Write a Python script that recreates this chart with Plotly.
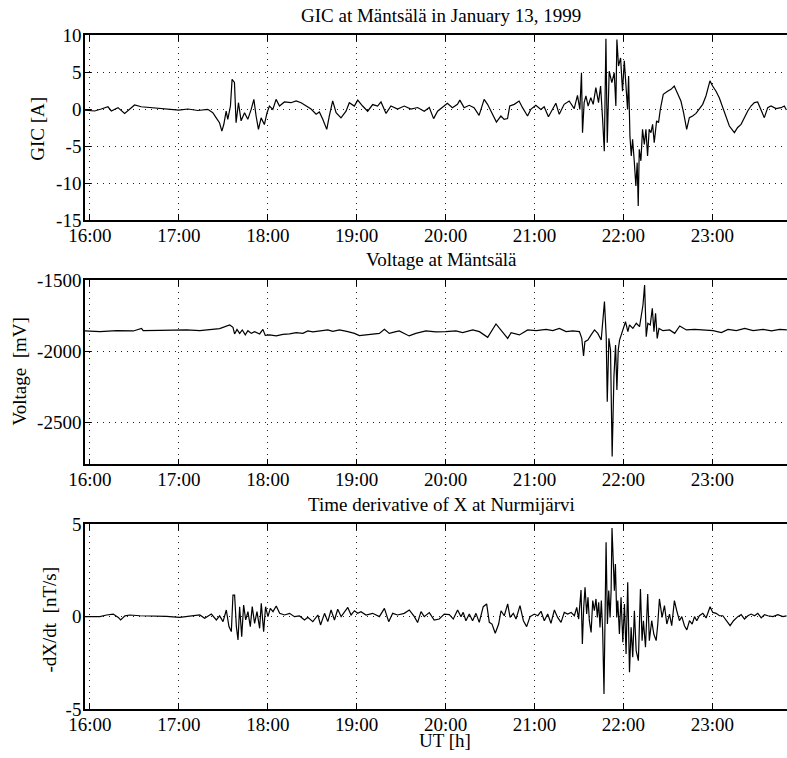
import plotly.graph_objects as go

# ---------------- data (time in minutes after 16:00 UT) ----------------
gic_min = [
    -3.4, 3.1, 7.6, 12.1, 14.4, 18.9, 23.4, 30.1, 34.6, 41.3,
    48.1, 54.8, 60, 66.1, 72.8, 79.5, 82.9, 85.2, 87.4, 89,
    90.3, 91.9, 93, 94.8, 95.9, 97.5, 98.6, 100.2, 102, 104.3,
    106.5, 108.8, 110.6, 112.1, 113.7, 115.5, 117.7, 119.5, 121.1, 123.4,
    125.6, 127.9, 131.2, 135.7, 139.1, 142.5, 145.8, 149.2, 152.6, 154.8,
    157.1, 159.8, 161.5, 163.8, 166.1, 169.4, 172.8, 175, 178.4, 180.7,
    184, 187.4, 190.8, 194.1, 196.4, 199.8, 203.1, 207.6, 212.1, 216.6,
    221.1, 225.6, 229, 231.9, 234.6, 238,
    241.2, 244.6, 248, 249.6, 252.5, 255.9, 259.2, 262.6, 266, 268.3,
    270.5, 274.3, 277.3, 279.5, 281.8, 283.3, 286.3, 289.6, 291.9, 295.3,
    297.5, 300.9, 304.3, 306.5, 309.4, 312.1, 314.4, 316.7, 320, 323.4,
    326.8, 329, 330.6, 331.7, 332.4, 333.5, 334.7, 336.2, 338, 339.6,
    341.4, 343.2, 344.6, 345.9, 347.1, 348.2, 349.1, 350.4, 352.2, 353.8,
    354.9, 355.6, 356.7, 358.1, 359.4, 360.6, 361.7, 362.8, 363.5, 364.4,
    365.3, 366.2, 367.3, 368.4, 369.3, 370, 370.7, 371.8, 372.9, 374.1,
    375.2, 376.3, 377.4, 378.6, 379.7, 380.8, 382.4, 383.7, 384.9, 386.9,
    389.8, 392.1, 394.3, 396.6, 398.8, 400.6, 402.7, 404.5, 406.7, 409,
    411.2, 413.5, 415.7, 418.4, 420.2, 422.5, 424.7, 427, 429.2, 431.5,
    434.9, 437.1, 439.4, 441.6, 443.9, 446.1, 448.4, 450.6, 452.9, 455.1,
    457.4, 459.6, 463, 466.4, 468.6, 470,
]
gic_val = [
    -0.14, -0.27, 0, 0.3, -0.27, 0.18, -0.6, 0.55, 0.3, 0.2,
    0.05, -0.1, -0.14, 0, -0.2, -0.05, -0.5, -1.2, -1.85, -3.0,
    -2.1, -0.3, -1.4, 0.4, 4.0, 3.6, -1.85, 0.85, -1.6, -0.5,
    -1.4, -0.05, 1.3, -0.95, -2.75, -1.2, -2.1, -0.5, 0.4, -0.05,
    1.3, 0.4, 0.95, 0.85, 1.1, 0.85, 0.4, 0, -0.7, -0.4,
    -1.4, -2.75, -0.95, 1.1, -0.5, -1.2, -0.3, 0.85, 0.4, 1.2,
    0.4, -0.3, 0.6, 0.4, 0.95, -0.6, 0.4, 0, 0.4, 0,
    0.2, -0.3, 0.2, -1.3, -0.3, 0.2,
    0.77, 0.18, 0.63, 1.2, 0.18, 0.5, 0.18, -0.86, 1.3, 0.63,
    -0.27, -1.76, -0.95, -1.4, -1.3, 0.4, 0.63, 1.08, 0.18, -0.95,
    -0.05, 0.5, -0.05, 0.3, -1.04, -0.05, 0.77, -0.72, 0.63, 1.08,
    0.05, 1.85, -0.05, 4.9, -3.2, 0.86, 1.76, 0.4, 1.53, 0.63,
    2.9, 0.86, 3.1, -1.17, -5.7, 9.5, -4.55, 5.1, 3.56, 4.9,
    0.4, 9.4, 5.8, 6.9, 2.4, 6.5, 2.9, -0.05, 4.46, -3.65,
    -6.35, -4.1, -7.0, -10.4, -7.25, -13.1, -5.45, -7.0, -2.75, -4.8,
    -2.75, -6.35, -2.75, -3.2, -2.07, -4.55, -1.6, -1.85, -0.05, 1.98,
    2.4, 2.66, 3.1, 1.98, 1.08, -0.5, -2.75, -1.17, -0.95, -0.6,
    0.05, 0.63, 1.76, 3.8, 3.1, 2.4, 1.53, 0.18, -0.95, -2.3,
    -3.2, -2.5, -2.07, -1.17, -0.27, 0.4, 0.86, 0.95, -0.05, -1.17,
    0.18, 0.4, 0.05, 0.18, 0.4, -0.14,
]

volt_min = [
    -3.4, 6.7, 18, 29.2, 34.8, 35.9, 47.1, 58.4, 65.1, 74.1,
    80.8, 87.5, 94.3, 96.5, 97.6, 99.2, 101, 102.8, 104.8, 106.6,
    108.9, 111.1, 114.5, 116.7, 118.3, 121.2, 125.7, 130.2, 134.7, 139.2,
    143.7, 147, 150.4, 154.9, 160.5, 163.9, 168.4, 174, 178.5, 181.8,
    186.3, 190.8, 195.3, 198.7, 202, 206.5,
    208.7, 215.4, 219.9, 226.7, 233.5, 240, 247, 251.5, 258.3, 262.8,
    268.4, 274, 277.4, 281.9, 284.2, 289.8, 295.4, 301.1, 307.8, 312.3,
    316.8, 321.3, 325.8, 330.3, 331.9, 333.1, 334, 336, 338.2, 340.5,
    342.7, 345, 347.2, 348.4, 349.1, 350.2, 351.3, 352.4, 353.6, 354.7,
    355.6, 356.5, 357.4, 358.5, 360, 361.4, 363, 364.1, 366.4, 368.7,
    370.9, 373.2, 374.3, 375.4, 376.5, 378.1, 379.5, 380.6, 381.7, 382.8,
    384, 386.7, 391.2, 394.6, 398, 402.5, 408.1, 413.7, 420.5, 426.1,
    430.6, 436.2, 441.9, 447.5, 454.3, 459.9, 465.5, 470.3,
]
volt_val = [
    -1858, -1863, -1856, -1858, -1840, -1856, -1854, -1851, -1851, -1856,
    -1847, -1842, -1816, -1833, -1879, -1847, -1875, -1851, -1886, -1856,
    -1875, -1863, -1879, -1847, -1889, -1886, -1893, -1882, -1879, -1870,
    -1875, -1858, -1865, -1861, -1851, -1861, -1851, -1863, -1875, -1891,
    -1886, -1879, -1875, -1847, -1875, -1863,
    -1858, -1893, -1875, -1858, -1865, -1863, -1858, -1870, -1851, -1863,
    -1903, -1809, -1851, -1910, -1870, -1886, -1851, -1856, -1847, -1856,
    -1840, -1863, -1858, -1863, -1910, -2034, -1933, -1922, -1886, -1851,
    -1875, -1922, -1652, -1898, -2355, -1910, -1992, -2741, -2179, -1957,
    -2273, -1992, -1922, -1886, -1851, -1793, -1863, -1816, -1840, -1804,
    -1828, -1676, -1535, -1898, -1804, -1816, -1699, -1863, -1734, -1910,
    -1840, -1856, -1851, -1875, -1823, -1851, -1847, -1851, -1856, -1870,
    -1847, -1856, -1840, -1856, -1847, -1858, -1847, -1851,
]

dxdt_min = [
    -3.4, 6.7, 11.2, 15.7, 19.1, 20.7, 23.6, 26.9, 33.7, 42.6,
    51.6, 60.6, 69.6, 74.1, 77.4, 81.9, 85.3, 87.5, 89.8, 92,
    93.8, 95.4, 96.5, 97.6, 98.8, 99.9, 101, 102.4, 103.7, 105.1,
    106.6, 108.2, 109.5, 111.1, 112.7, 114.5, 115.6, 117.2, 118.5, 120.1,
    121.7, 123.5, 125.7, 128, 131.3, 134.7, 138, 141.4, 144.8, 147,
    150.4, 153.8, 155.6, 158.3, 160.5, 162.7, 165, 167.2, 169.5, 171.7,
    174, 176.2, 178.5, 180.7, 182.9, 186.3, 190.8, 195.3, 198.7, 201.6,
    204.3, 207.6,
    212.1, 215.5, 218.9, 221.1, 223.4, 225.6, 229, 232.3,
    235.7, 239.1, 242.5, 245.2, 248.1, 250.4, 251.9, 253.7, 256, 258.2,
    260.5, 262.7, 265.4, 267.7, 269.5, 271.3, 273.5, 275.8, 277.4, 279.6,
    281.9, 283.5, 285.7, 287.5, 290.2, 292.5, 294.7, 297, 299.9, 302.2,
    304.4, 306.6, 308.9, 311.1, 313.4, 315.6, 317.9, 320.1, 322.4, 324.7,
    326.9, 328.5, 329.8, 331.4, 332.3, 333.2, 334.1, 335.2, 336.1, 337,
    338.2, 339.3, 340.4, 341.5, 342.4, 343.3, 344.2, 345.1, 346, 346.9,
    347.6, 348.3, 349.2, 350.1, 351, 351.7, 352.3, 353.2, 353.9, 354.6,
    355.5, 356.2, 357.3, 358.4, 359.6, 360.7, 361.8, 362.9, 364.1, 365.2,
    366.3, 367.4, 368.6, 370.1, 371.5, 372.6, 373.5, 374.9, 376.4, 377.5,
    379.1, 380.5, 382.1, 383.2, 384.3, 386.1, 387.7, 389.3, 391.1, 392.6,
    394.4, 396, 397.8, 399.4, 401.2, 402.8, 404.6, 406.4, 408, 409.5,
    411.3, 413.6, 415.8, 418.5, 420.3, 422.6, 424.8, 427.1, 429.8, 432,
    434.3, 437.2, 439.5, 441.7, 444, 446.2, 448.5, 450.7, 453, 455.2,
    457.5, 460.9, 464.2, 467.6, 470.1,
]
dxdt_val = [
    0, 0, 0.09, 0.14, -0.04, -0.18, 0.04, 0.09, 0.05, 0.04,
    0.02, -0.04, 0.04, 0.09, -0.09, 0.14, -0.18, 0.04, -0.27, 0.36,
    -0.54, -0.81, 1.17, 1.17, -0.54, -1.26, 0.54, -1.08, 0.63, -0.18,
    0.27, -0.54, 0.54, -0.36, 0.27, -0.63, 0.72, -0.81, 0.54, 0,
    0.45, 0.27, 0.58, 0.18, 0.09, 0.18, 0, 0.04, -0.18, -0.04,
    -0.27, 0.09, -0.45, 0.18, -0.27, 0.36, -0.18, 0.4, 0, 0.27,
    0.5, 0.09, 0.32, 0.18, 0.27, 0.09, 0.18, 0, 0.45, -0.27,
    0.18, 0.09,
    0.18, 0.36, 0, -0.32, 0.27, 0, 0.22, -0.18,
    -0.13, 0.14, 0.11, -0.13, 0.36, 0, 0.23, -0.22, 0.14, -0.22,
    0.18, -0.31, 0.54, 0.69, -0.31, -0.4, -0.9, -0.4, 0.32, 0.05,
    0.69, -0.04, 0.18, -0.13, 0.6, -0.22, -0.54, 0, 0.14, 0.05,
    0.29, -0.22, 0.14, -0.36, 0.36, -0.04, -0.31, 0.23, 0.14, 0.23,
    0.05, 0.5, -0.13, 1.44, -1.48, 0.5, 1.59, 0.14, 1.05, -0.22,
    -0.85, 0.87, 0.32, 0.96, -0.04, 0.78, -0.58, 0.87, -0.76, -4.19,
    0.5, 4.03, -0.4, 1.41, -0.04, 1.41, 4.8, 2.13, 1.41, 2.85,
    -0.04, 0.87, -0.94, 1.05, -1.39, 0.69, -2.02, 1.86, -3.01, -0.58,
    -2.2, 0.32, -1.84, -2.38, 1.5, -1.3, -0.22, -1.66, 1.23, -1.3,
    -0.22, -0.94, -1.3, -0.4, 0.96, -0.04, 0.6, -0.4, 0.14, -0.49,
    0.87, 0.32, -0.22, 0, -0.49, -0.72, -0.22, -0.4, 0, -0.22,
    0.05, 0.18, -0.07, 0.54, 0.23, 0.18, 0.05, 0.05, -0.22, -0.49,
    -0.22, 0, 0.11, -0.13, 0.05, 0.14, 0.05, 0.18, -0.07, 0.11,
    0.05, 0, 0.11, 0, 0.04,
]

hour_ticks = [16, 17, 18, 19, 20, 21, 22, 23]
hour_labels = ["16:00", "17:00", "18:00", "19:00", "20:00", "21:00", "22:00", "23:00"]
gic_ticks = [-15, -10, -5, 0, 5, 10]
gic_labels = ["-15", "-10", "-5", "0", "5", "10"]
volt_ticks = [-2500, -2000, -1500]
volt_labels = ["-2500", "-2000", "-1500"]
dxdt_ticks = [-5, 0, 5]
dxdt_labels = ["-5", "0", "5"]

# ---------------- figure ----------------
W, H = 787, 758
L = 85
FONT = "Liberation Serif"
FS = 19


def hours(mins):
    return [16 + m / 60.0 for m in mins]


fig = go.Figure()
line = dict(color="black", width=1.2)
fig.add_trace(go.Scatter(x=hours(gic_min), y=gic_val, mode="lines", line=line,
                         xaxis="x", yaxis="y", showlegend=False))
fig.add_trace(go.Scatter(x=hours(volt_min), y=volt_val, mode="lines", line=line,
                         xaxis="x2", yaxis="y2", showlegend=False))
fig.add_trace(go.Scatter(x=hours(dxdt_min), y=dxdt_val, mode="lines", line=line,
                         xaxis="x3", yaxis="y3", showlegend=False))


def pdom(top_px, bot_px):
    return [1 - bot_px / H, 1 - top_px / H]


doms = [pdom(35, 220), pdom(280, 464.3), pdom(524.3, 709)]
yranges = [[-15, 10], [-2795, -1500], [-5, 5]]
yticks = [(gic_ticks, gic_labels), (volt_ticks, volt_labels), (dxdt_ticks, dxdt_labels)]

grid = dict(showgrid=True, gridcolor="#222", gridwidth=1, griddash="1px,5px")
tickfont = dict(family=FONT, size=FS, color="black")

for i in range(3):
    sx = "" if i == 0 else str(i + 1)
    fig.update_layout(**{
        "xaxis" + sx: dict(
            domain=[0, 1], anchor="y" + sx, range=[15.944, 23.84],
            tickmode="array", tickvals=hour_ticks, ticktext=hour_labels,
            ticks="inside", ticklen=6, tickwidth=1, tickcolor="black",
            ticklabelstandoff=-3,
            showline=True, linecolor="black", linewidth=1.5, mirror="ticks",
            zeroline=False, tickfont=tickfont, automargin=False, **grid),
        "yaxis" + sx: dict(
            domain=doms[i], anchor="x" + sx, range=yranges[i],
            tickmode="array", tickvals=yticks[i][0], ticktext=yticks[i][1],
            ticks="inside", ticklen=6, tickwidth=1, tickcolor="black",
            ticklabelstandoff=-2,
            showline=True, linecolor="black", linewidth=1.5, mirror=False,
            zeroline=False, tickfont=tickfont, automargin=False, **grid),
    })


def px_x(px):
    return (px - L) / (W - L)


def px_y(py):
    return 1 - py / H


ann = []
titles = [
    ("GIC at Mäntsälä in January 13, 1999", 441, 15),
    ("Voltage at Mäntsälä", 441, 260),
    ("Time derivative of X at Nurmijärvi", 441, 504.5),
    ("UT [h]", 445, 740),
]
for t, x, y in titles:
    ann.append(dict(text=t, x=px_x(x), y=px_y(y), xref="paper", yref="paper",
                    xanchor="center", yanchor="middle", showarrow=False,
                    font=dict(family=FONT, size=FS, color="black")))
ytitles = [
    ("GIC [A]", 36.7, 129),
    ("Voltage\u00a0\u00a0[mV]", 18.5, 372),
    ("-dX/dt\u00a0\u00a0[nT/s]", 48.5, 620),
]
for t, x, y in ytitles:
    ann.append(dict(text=t, x=px_x(x), y=px_y(y), xref="paper", yref="paper",
                    xanchor="center", yanchor="middle", showarrow=False,
                    textangle=-90,
                    font=dict(family=FONT, size=FS, color="black")))

fig.update_layout(
    width=W, height=H,
    margin=dict(l=L, r=0, t=0, b=0, autoexpand=False),
    paper_bgcolor="white", plot_bgcolor="white",
    annotations=ann,
    showlegend=False,
)

fig.write_html("out.html")
